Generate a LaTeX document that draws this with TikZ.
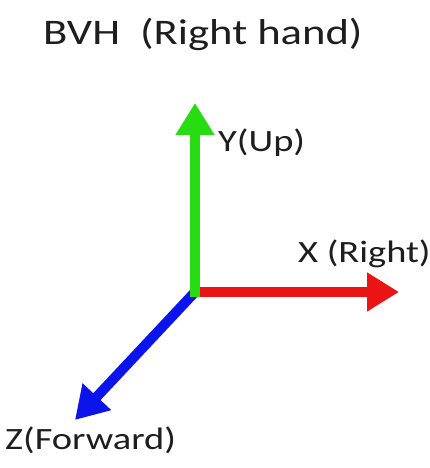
\documentclass[tikz,border=0pt]{standalone}
\usepackage{fontspec}
\setmainfont{Carlito}
\newfontfamily\widefont[FakeStretch=1.24]{Carlito}
\usetikzlibrary{arrows.meta}
\definecolor{axgreen}{RGB}{40,220,20}
\definecolor{axred}{RGB}{235,20,20}
\definecolor{axblue}{RGB}{10,20,235}
\definecolor{txt}{RGB}{30,30,30}
\tikzset{
  axis/.style={line width=10pt, -{Triangle[width=37pt,length=32pt]}},
  lbl/.style={anchor=base west, inner sep=0pt, text=txt, font=\widefont\fontsize{31}{37}\selectfont},
}
\begin{document}
\begin{tikzpicture}[x=1pt,y=1pt]
\useasboundingbox[fill=white] (0,0) rectangle (430,468);
\node[lbl, font=\widefont\fontsize{36}{43}\selectfont] (title) at (43,423) {BVH\ \ (Right hand)};
\coordinate (o) at (195,176);
\coordinate (ytip) at (195,365);
\coordinate (xtip) at (399,176);
\coordinate (ztip) at (75,48);
\draw[axis, axblue] (o) -- (ztip);
\draw[axis, axred] (o) -- (xtip);
\draw[axis, axgreen] (195,171) -- (ytip);
\node[lbl] (ylbl) at (218,316) {Y(Up)};
\node[lbl] (xlbl) at (298,205) {X (Right)};
\node[lbl] (zlbl) at (5,18) {Z(Forward)};
\end{tikzpicture}
\end{document}
